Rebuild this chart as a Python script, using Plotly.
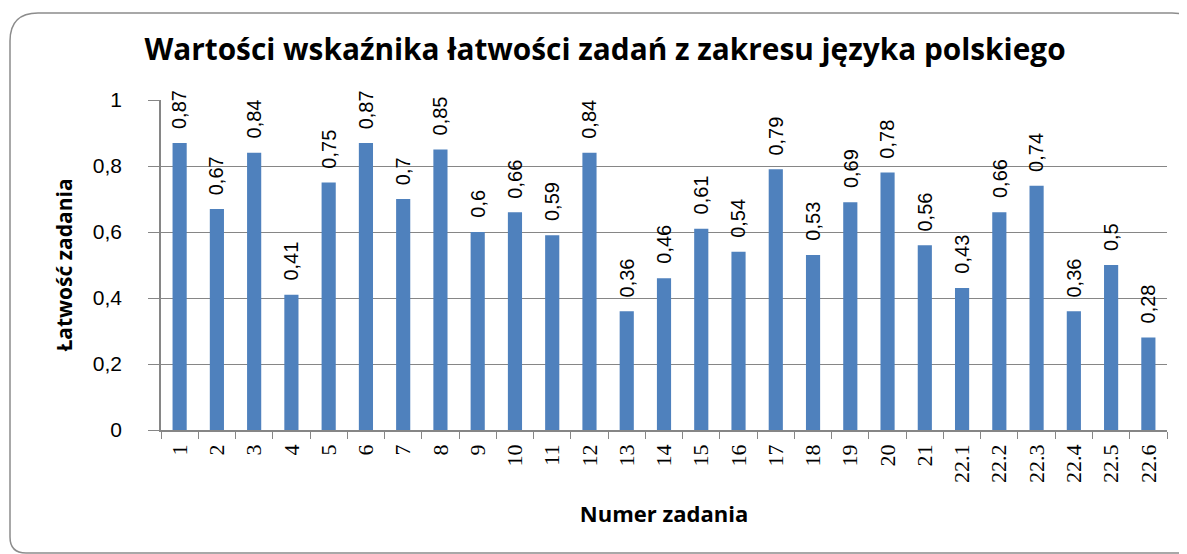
import plotly.graph_objects as go

categories = [str(i) for i in range(1, 22)] + ["22.1", "22.2", "22.3", "22.4", "22.5", "22.6"]
values = [0.87, 0.67, 0.84, 0.41, 0.75, 0.87, 0.7, 0.85, 0.6, 0.66, 0.59, 0.84, 0.36, 0.46,
          0.61, 0.54, 0.79, 0.53, 0.69, 0.78, 0.56, 0.43, 0.66, 0.74, 0.36, 0.5, 0.28]
labels = [("%g" % v).replace(".", ",") for v in values]

# the page body adds an 8px offset, so the figure is sized/positioned to compensate
W, H = 1179, 546
L, R, T, B = 153, 20, 92, 124

fig = go.Figure()
fig.add_trace(go.Bar(x=categories, y=values, marker=dict(color="#4F81BD", line=dict(width=0)),
                     hoverinfo="skip"))

annotations = []
for i, (v, t) in enumerate(zip(values, labels)):
    annotations.append(dict(x=i, y=v, xref="x", yref="y", text=t, textangle=-90, showarrow=False,
                            xanchor="center", yanchor="bottom", yshift=12,
                            font=dict(family="Liberation Sans", size=20, color="#000")))

# rounded frame (pixel coordinates relative to the plot-area origin)
fx0, fx1 = 2 - L, 1192 - L
fy_top, fy_bot = (H - B) - 5, -(545 - (H - B))
rt, rb = 28, 16
path = (f"M {fx0+rt},{fy_top} L {fx1-rt},{fy_top} Q {fx1},{fy_top} {fx1},{fy_top-rt} "
        f"L {fx1},{fy_bot+rb} Q {fx1},{fy_bot} {fx1-rb},{fy_bot} "
        f"L {fx0+rb},{fy_bot} Q {fx0},{fy_bot} {fx0},{fy_bot+rb} "
        f"L {fx0},{fy_top-rt} Q {fx0},{fy_top} {fx0+rt},{fy_top} Z")
fig.add_shape(type="path", path=path, xref="paper", yref="paper", xanchor=0, yanchor=0,
              xsizemode="pixel", ysizemode="pixel", line=dict(color="#8c8c8c", width=1.5),
              layer="below")

fig.update_layout(
    width=W, height=H,
    margin=dict(l=L, r=R, t=T, b=B, autoexpand=False),
    paper_bgcolor="white", plot_bgcolor="white",
    separators=", ",
    bargap=0.62,
    showlegend=False,
    annotations=annotations,
    title=dict(text="<b>Wartości wskaźnika łatwości zadań z zakresu języka polskiego</b>",
               x=597 / W, xanchor="center", y=1 - 42 / H, yanchor="middle",
               font=dict(family="Open Sans", size=29.8, color="#000")),
    xaxis=dict(type="category", tickson="boundaries", ticks="outside", ticklen=7,
               tickcolor="#868686", showline=True, linecolor="#868686", linewidth=1.5,
               tickangle=-90, showgrid=False, automargin=False, ticklabelstandoff=4,
               tickfont=dict(family="Liberation Serif", size=22, color="#000"),
               title=dict(text="<b>Numer zadania</b>", standoff=25,
                          font=dict(family="Open Sans", size=22, color="#000"))),
    yaxis=dict(range=[0, 1], dtick=0.2, tick0=0, ticks="outside", ticklen=11,
               tickcolor="#868686", showgrid=True, gridcolor="#868686", gridwidth=1,
               showline=True, linecolor="#868686", linewidth=1.5, zeroline=False,
               ticklabelstandoff=22, automargin=False,
               tickfont=dict(family="Liberation Sans", size=21, color="#000"),
               title=dict(text="<b>Łatwość zadania</b>", standoff=14,
                          font=dict(family="Open Sans", size=21, color="#000"))),
)

fig.write_html("out.html")
